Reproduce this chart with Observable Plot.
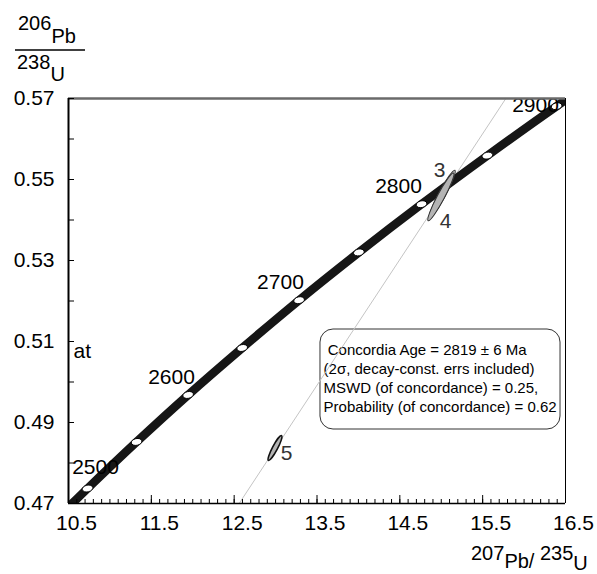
<!DOCTYPE html>
<html><head><meta charset="utf-8">
<script src="https://cdn.jsdelivr.net/npm/d3@7"></script>
<script src="https://cdn.jsdelivr.net/npm/@observablehq/plot@0.6"></script>
<style>
body{margin:0;background:#fff;}
#chart{width:597px;height:574px;}
svg{font-family:"Liberation Sans",Arial,sans-serif;}
</style></head><body><div id="chart"></div>
<script>
// Concordia curve, 207Pb/235U vs 206Pb/238U
const curveAges = [2450, 2500, 2550, 2600, 2650, 2700, 2750, 2800, 2850, 2900, 2950];
const curveX = [10.166, 10.730, 11.322, 11.944, 12.597, 13.284, 14.005, 14.762, 15.557, 16.393, 17.271];
const curveY = [0.4624, 0.4737, 0.4852, 0.4968, 0.5084, 0.5202, 0.5320, 0.5439, 0.5559, 0.5681, 0.5803];
// Age tick markers on the concordia
const markerAges = [2500, 2550, 2600, 2650, 2700, 2750, 2800, 2850, 2900];
const markerX = [10.730, 11.322, 11.944, 12.597, 13.284, 14.005, 14.762, 15.557, 16.393];
const markerY = [0.4737, 0.4852, 0.4968, 0.5084, 0.5202, 0.5320, 0.5439, 0.5559, 0.5681];
// Age labels
const ageLabels = ["2500", "2600", "2700", "2800", "2900"];
const ageLabelX = [10.826, 11.744, 13.059, 14.484, 16.138];
const ageLabelY = [0.4789, 0.5011, 0.5246, 0.5483, 0.5683];
// Analyses (error ellipses)
const spotNames = ["3", "4", "5"];
const spotX = [15.012, 14.995, 12.993];
const spotY = [0.5464, 0.5457, 0.4837];
const spotLabelX = [14.979, 15.052, 13.132];
const spotLabelY = [0.5522, 0.5396, 0.4825];
// Reference (discordia) line
const refX = [12.56, 15.78];
const refY = [0.47, 0.57];
// Axis ticks
const xTickLabels = [10.5, 11.5, 12.5, 13.5, 14.5, 15.5, 16.5];
const yTickLabels = [0.47, 0.49, 0.51, 0.53, 0.55, 0.57];
const xMinor = d3.range(105, 166, 1).map(d => d / 10);
const yMinor = d3.range(47, 58, 1).map(d => d / 100);
// Result box text
const resultLines = [
  "\u00a0Concordia Age = 2819 \u00b1 6 Ma",
  "(2\u03c3, decay-const. errs included)",
  "MSWD (of concordance) = 0.25,",
  "Probability (of concordance) = 0.62"
];
const strayText = ["at"];
const strayX = [10.56];
const strayY = [0.5075];

const curve = curveX.map((x, i) => ({age: curveAges[i], x, y: curveY[i]}));
const markers = markerX.map((x, i) => ({age: markerAges[i], x, y: markerY[i]}));
const labels = ageLabels.map((t, i) => ({t, x: ageLabelX[i], y: ageLabelY[i]}));
const spots = spotNames.map((n, i) => ({n, x: spotX[i], y: spotY[i], lx: spotLabelX[i], ly: spotLabelY[i]}));
const refLine = refX.map((x, i) => ({x, y: refY[i]}));

function ellipseSymbol(aspect) {
  return {draw(ctx, size) {
    const rx = Math.sqrt(size / Math.PI), ry = rx / aspect, k = 0.5523;
    ctx.moveTo(rx, 0);
    ctx.bezierCurveTo(rx, ry * k, rx * k, ry, 0, ry);
    ctx.bezierCurveTo(-rx * k, ry, -rx, ry * k, -rx, 0);
    ctx.bezierCurveTo(-rx, -ry * k, -rx * k, -ry, 0, -ry);
    ctx.bezierCurveTo(rx * k, -ry, rx, -ry * k, rx, 0);
    ctx.closePath();
  }};
}

const W = 597, H = 574, ML = 68, MR = 32, MT = 98, MB = 71;
const xPerPx = 6 / (W - ML - MR), yPerPx = 0.1 / (H - MT - MB);
const font = "Liberation Sans, Arial, sans-serif";
const plot = Plot.plot({
  width: W, height: H,
  marginLeft: ML, marginRight: MR, marginTop: MT, marginBottom: MB,
  style: {fontFamily: font, background: "#fff", color: "#000"},
  x: {domain: [10.5, 16.5], label: null},
  y: {domain: [0.47, 0.57], label: null},
  marks: [
    // result box
    Plot.rect([0], {x1: () => 13.542, x2: () => 16.44, y1: () => 0.48827, y2: () => 0.51296,
      rx: 13, fill: "none", stroke: "#333", strokeWidth: 1}),
    Plot.text([resultLines.join("\n")], {x: () => 13.579, y: () => 0.5100, text: d => d,
      textAnchor: "start", lineAnchor: "top", lineHeight: 1.27, fontSize: 15, fill: "#000"}),
    // reference line
    Plot.line(refLine, {x: "x", y: "y", stroke: "#c4c4c4", strokeWidth: 1, clip: true}),
    // concordia
    Plot.line(curve, {x: "x", y: "y", stroke: "#161616", strokeWidth: 8.5, curve: "catmull-rom", clip: true}),
    Plot.dot(markers, {x: "x", y: "y", r: 5.4, symbol: ellipseSymbol(1.6), rotate: -12,
      fill: "#fff", stroke: "#000", strokeWidth: 0.9}),
    // data ellipses
    Plot.dot(spots.slice(0, 2), {x: "x", y: "y", r: 27, symbol: ellipseSymbol(7.5), rotate: -62,
      fill: "#b4b4b4", stroke: "#333", strokeWidth: 1}),
    Plot.dot(spots.slice(2), {x: "x", y: "y", r: 14, symbol: ellipseSymbol(5.5), rotate: -62,
      fill: "#b4b4b4", stroke: "#111", strokeWidth: 1.6}),
    // labels
    Plot.text(labels, {x: "x", y: "y", text: "t", fontSize: 21, fill: "#000"}),
    Plot.text(spots, {x: "lx", y: "ly", text: "n", fontSize: 21, fill: "#333"}),
    Plot.text(strayText, {x: () => strayX[0], y: () => strayY[0], text: d => d, textAnchor: "start", fontSize: 21, fill: "#000"}),
    // frame
    Plot.ruleY([0.57], {stroke: "#6a6a6a", strokeWidth: 2.5}),
    Plot.ruleX([16.5], {stroke: "#000", strokeWidth: 1}),
    Plot.ruleX([10.5], {stroke: "#000", strokeWidth: 2}),
    Plot.ruleY([0.47], {stroke: "#000", strokeWidth: 1.5}),
    // inward ticks
    Plot.ruleX(xMinor, {x: d => d, y1: () => 0.47, y2: () => 0.47 + 4 * yPerPx, stroke: "#000", strokeWidth: 1}),
    Plot.ruleX(xTickLabels, {x: d => d, y1: () => 0.47, y2: () => 0.47 + 8 * yPerPx, stroke: "#000", strokeWidth: 1}),
    Plot.ruleY(yMinor, {y: d => d, x1: () => 10.5, x2: () => 10.5 + 6 * xPerPx, stroke: "#000", strokeWidth: 1}),
    // tick labels
    Plot.axisX(xTickLabels, {tickSize: 0, tickPadding: 12, dx: 8, fontSize: 21, fill: "#000", tickFormat: d => d.toFixed(1)}),
    Plot.axisY(yTickLabels, {tickSize: 0, tickPadding: 14, fontSize: 21, fill: "#000", tickFormat: d => d.toFixed(2)})
  ]
});
document.getElementById("chart").appendChild(plot);

// Axis titles (rich text with superscripts)
const svg = d3.select(plot);
const g = svg.append("g").attr("font-family", font).attr("font-size", 20).attr("fill", "#000").attr("text-anchor", "start");
const yl = g.append("text").attr("x", 18).attr("y", 30);
yl.append("tspan").text("206");
yl.append("tspan").attr("dy", 13).text("Pb");
g.append("line").attr("x1", 15).attr("x2", 85).attr("y1", 50).attr("y2", 50).attr("stroke", "#000").attr("stroke-width", 1.5);
const yl2 = g.append("text").attr("x", 17).attr("y", 69);
yl2.append("tspan").text("238");
yl2.append("tspan").attr("dy", 12).text("U");
const xl = g.append("text").attr("x", 471).attr("y", 560);
xl.append("tspan").text("207");
xl.append("tspan").attr("dy", 8).text("Pb/");
xl.append("tspan").attr("dy", -8).text("\u00a0235");
xl.append("tspan").attr("dy", 10).text("U");
</script></body></html>
